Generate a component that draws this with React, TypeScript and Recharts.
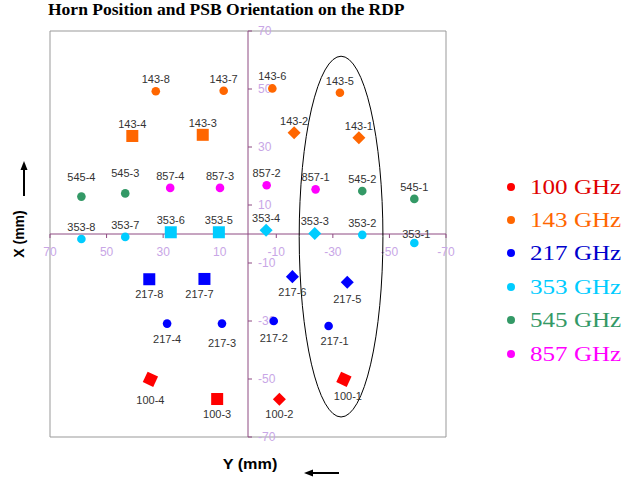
import { ScatterChart, Scatter, XAxis, YAxis, ReferenceLine, ReferenceArea, ReferenceDot } from "recharts";

// horn centres in mm on the RDP; psb = orientation of the square marker in degrees (null = spider-web horn, drawn as a dot)
type Horn = { name: string; x: number; y: number; psb: number | null };

const HORNS_100: Horn[] = [
  { name: "100-1", x: -33.9, y: -50.1, psb: 25 },
  { name: "100-2", x: -11.1, y: -57.0, psb: 45 },
  { name: "100-3", x: 10.9, y: -56.9, psb: 0 },
  { name: "100-4", x: 34.5, y: -50.1, psb: 25 },
];
const HORNS_143: Horn[] = [
  { name: "143-1", x: -39.2, y: 33.2, psb: 45 },
  { name: "143-2", x: -16.3, y: 34.9, psb: 45 },
  { name: "143-3", x: 16.0, y: 34.2, psb: 0 },
  { name: "143-4", x: 40.9, y: 33.8, psb: 0 },
  { name: "143-5", x: -32.5, y: 48.7, psb: null },
  { name: "143-6", x: -8.6, y: 50.2, psb: null },
  { name: "143-7", x: 8.6, y: 49.4, psb: null },
  { name: "143-8", x: 32.6, y: 49.2, psb: null },
];
const HORNS_217: Horn[] = [
  { name: "217-1", x: -28.5, y: -31.7, psb: null },
  { name: "217-2", x: -9.1, y: -30.0, psb: null },
  { name: "217-3", x: 9.2, y: -30.9, psb: null },
  { name: "217-4", x: 28.6, y: -30.9, psb: null },
  { name: "217-5", x: -35.1, y: -16.6, psb: 45 },
  { name: "217-6", x: -15.7, y: -14.7, psb: 45 },
  { name: "217-7", x: 15.4, y: -15.5, psb: 0 },
  { name: "217-8", x: 34.9, y: -15.6, psb: 0 },
];
const HORNS_353: Horn[] = [
  { name: "353-1", x: -58.8, y: -3.1, psb: null },
  { name: "353-2", x: -40.4, y: -0.3, psb: null },
  { name: "353-3", x: -23.6, y: 0.2, psb: 45 },
  { name: "353-4", x: -6.4, y: 1.3, psb: 45 },
  { name: "353-5", x: 10.3, y: 0.6, psb: 0 },
  { name: "353-6", x: 27.3, y: 0.6, psb: 0 },
  { name: "353-7", x: 43.4, y: -1.0, psb: null },
  { name: "353-8", x: 58.9, y: -1.7, psb: null },
];
const HORNS_545: Horn[] = [
  { name: "545-1", x: -58.8, y: 12.1, psb: null },
  { name: "545-2", x: -40.4, y: 14.8, psb: null },
  { name: "545-3", x: 43.4, y: 14.0, psb: null },
  { name: "545-4", x: 58.9, y: 12.9, psb: null },
];
const HORNS_857: Horn[] = [
  { name: "857-1", x: -23.9, y: 15.4, psb: null },
  { name: "857-2", x: -6.6, y: 16.8, psb: null },
  { name: "857-3", x: 9.9, y: 15.9, psb: null },
  { name: "857-4", x: 27.5, y: 15.9, psb: null },
];

// highlighted column: centre and half-extents in mm
const HIGHLIGHT = [{ x: -32.9, y: -0.9, rx: 14.8, ry: 62.2 }];

const AXIS_TICKS = [70, 50, 30, 10, -10, -30, -50, -70];

const SERIES = [
  { label: "100 GHz", data: HORNS_100, color: "#FF0000", text: "#E00000", below: true },
  { label: "143 GHz", data: HORNS_143, color: "#FF6600", text: "#FF6600", below: false },
  { label: "217 GHz", data: HORNS_217, color: "#0000FF", text: "#0000CC", below: true },
  { label: "353 GHz", data: HORNS_353, color: "#00CCFF", text: "#00CCFF", below: false },
  { label: "545 GHz", data: HORNS_545, color: "#339966", text: "#339966", below: false },
  { label: "857 GHz", data: HORNS_857, color: "#FF00FF", text: "#FF00FF", below: false },
];

// small hand nudges for labels that sit off the usual spot
const LABEL_NUDGE: Record<string, [number, number]> = {
  "545-3": [0, -8],
  "545-4": [0, -8],
  "217-3": [0, 4],
  "217-5": [0, 2],
  "217-2": [0, 2],
  "100-4": [0, 6],
  "217-7": [-5, 0],
  "217-1": [6, 0],
  "100-1": [4, 2],
  "353-1": [2, 3],
};

const W = 631;
const H = 483;
const MARGIN = { top: 31, right: 185, bottom: 46, left: 50 };
const PX_X = (W - MARGIN.left - MARGIN.right) / 140;
const PX_Y = (H - MARGIN.top - MARGIN.bottom) / 140;

const AXIS_COLOR = "#8E4A82";
const TICK_COLOR = "#C8A6E6";
const SANS = "'Liberation Sans', Arial, sans-serif";
const SERIF = "'Liberation Serif', 'Times New Roman', serif";

function hornShape(color: string, below: boolean) {
  return (props: any) => {
    const { cx, cy, payload } = props;
    const psb: number | null = payload.psb;
    const [dx, dy] = LABEL_NUDGE[payload.name] ?? [0, 0];
    const side = psb === 45 ? 9.2 : psb === 0 ? 12 : 11.5;
    return (
      <g>
        {psb === null ? (
          <circle cx={cx} cy={cy} r={4.3} fill={color} />
        ) : (
          <rect
            x={cx - side / 2}
            y={cy - side / 2}
            width={side}
            height={side}
            fill={color}
            transform={`rotate(${psb} ${cx} ${cy})`}
          />
        )}
        <text
          x={cx + dx}
          y={cy + (below ? 15 : -12) + dy}
          textAnchor="middle"
          dominantBaseline="central"
          fontFamily={SANS}
          fontSize={11}
          fill="#333"
        >
          {payload.name}
        </text>
      </g>
    );
  };
}

function highlightShape(props: any) {
  const { cx, cy, payload } = props;
  return <ellipse cx={cx} cy={cy} rx={payload.rx * PX_X} ry={payload.ry * PX_Y} fill="none" stroke="#000" strokeWidth={1} />;
}

export default function App() {
  return (
    <div style={{ position: "absolute", left: 0, top: 0, width: W, height: H, background: "#fff" }}>
      <div
        style={{
          position: "absolute",
          left: 48,
          top: 0,
          fontFamily: SERIF,
          fontWeight: "bold",
          fontSize: 17,
          lineHeight: "20px",
          whiteSpace: "nowrap",
          transform: "scaleX(1.03)",
          transformOrigin: "left center",
          zIndex: 2,
        }}
      >
        Horn Position and PSB Orientation on the RDP
      </div>

      <ScatterChart width={W} height={H} margin={MARGIN}>
        <XAxis type="number" dataKey="x" domain={[-70, 70]} reversed hide allowDataOverflow />
        <YAxis type="number" dataKey="y" domain={[-70, 70]} hide allowDataOverflow />
        <ReferenceArea x1={70} x2={-70} y1={-70} y2={70} fill="none" fillOpacity={0} stroke="#999" ifOverflow="visible" />
        <ReferenceLine x={0} stroke={AXIS_COLOR} ifOverflow="visible" />
        <ReferenceLine y={0} stroke={AXIS_COLOR} ifOverflow="visible" />
        {AXIS_TICKS.map((t) => (
          <ReferenceDot
            key={`xt${t}`}
            x={t}
            y={0}
            r={0}
            ifOverflow="visible"
            shape={(p: any) => (
              <g>
                <line x1={p.cx} x2={p.cx} y1={p.cy} y2={p.cy + 4} stroke={AXIS_COLOR} />
                <text x={p.cx} y={p.cy + 18} textAnchor="middle" dominantBaseline="central" fontFamily={SANS} fontSize={12} fill={TICK_COLOR}>
                  {t}
                </text>
              </g>
            )}
          />
        ))}
        {AXIS_TICKS.map((t) => (
          <ReferenceDot
            key={`yt${t}`}
            x={0}
            y={t}
            r={0}
            ifOverflow="visible"
            shape={(p: any) => (
              <g>
                <line x1={p.cx} x2={p.cx + 4} y1={p.cy} y2={p.cy} stroke={AXIS_COLOR} />
                <text x={p.cx + 10} y={p.cy} textAnchor="start" dominantBaseline="central" fontFamily={SANS} fontSize={12} fill={TICK_COLOR}>
                  {t}
                </text>
              </g>
            )}
          />
        ))}
        <Scatter data={HIGHLIGHT} shape={highlightShape} isAnimationActive={false} legendType="none" />
        {SERIES.map((s) => (
          <Scatter
            key={s.label}
            name={s.label}
            data={s.data}
            fill={s.color}
            shape={hornShape(s.color, s.below)}
            isAnimationActive={false}
          />
        ))}
      </ScatterChart>

      <div
        style={{
          position: "absolute",
          left: 19,
          top: 234,
          transform: "translate(-50%, -50%) rotate(-90deg)",
          fontFamily: SANS,
          fontWeight: "bold",
          fontSize: 14,
          whiteSpace: "nowrap",
        }}
      >
        X (mm)
      </div>
      <div
        style={{
          position: "absolute",
          left: 250,
          top: 463,
          transform: "translate(-50%, -50%) scaleX(1.08)",
          fontFamily: SANS,
          fontWeight: "bold",
          fontSize: 15,
          whiteSpace: "nowrap",
        }}
      >
        Y (mm)
      </div>
      <svg width={W} height={H} style={{ position: "absolute", left: 0, top: 0, pointerEvents: "none" }}>
        <line x1={24} x2={24} y1={196} y2={168} stroke="#000" strokeWidth={2} />
        <polygon points="24,161 20.5,170 27.5,170" fill="#000" />
        <line x1={339} x2={311} y1={473} y2={473} stroke="#000" strokeWidth={2} />
        <polygon points="304,473 313,469.5 313,476.5" fill="#000" />
      </svg>

      <div style={{ position: "absolute", left: 507, top: 170 }}>
        {SERIES.map((s) => (
          <div key={s.label} style={{ display: "flex", alignItems: "center", height: 33.4 }}>
            <span style={{ width: 8, height: 8, borderRadius: 4, background: s.color, display: "inline-block" }} />
            <span
              style={{
                marginLeft: 15,
                fontFamily: "Liberation Serif",
                fontSize: 22,
                color: s.text,
                whiteSpace: "nowrap",
                display: "inline-block",
                transform: "scaleX(1.14)",
                transformOrigin: "left center",
              }}
            >
              {s.label}
            </span>
          </div>
        ))}
      </div>
    </div>
  );
}
